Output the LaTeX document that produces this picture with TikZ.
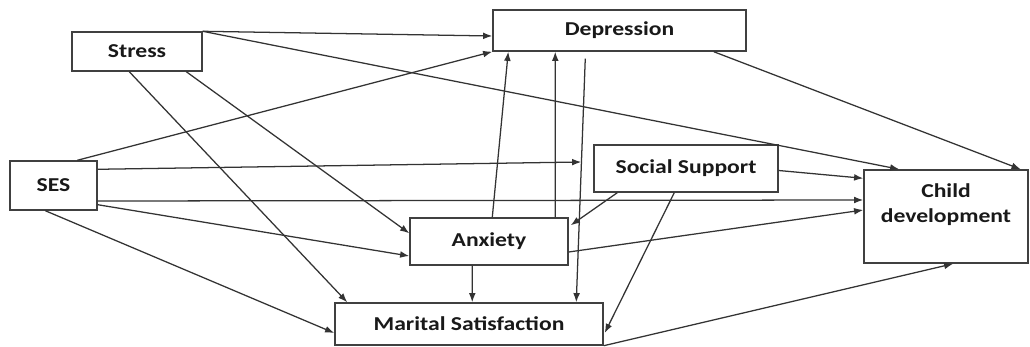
\documentclass[tikz,border=0pt]{standalone}
\usepackage{fontspec}
\setmainfont{Carlito}[FakeStretch=1.2]
\usepackage{tikz}
\usetikzlibrary{arrows.meta,calc}

\begin{document}
\begin{tikzpicture}[x=0.025cm,y=-0.025cm,->,>={Latex[length=2.3mm,width=1.7mm]},
  line width=0.9pt,black!80]
  \tikzstyle{box}=[draw=black!75,line width=1pt,fill=white,inner sep=0pt,
    font=\fontsize{14}{18}\selectfont\bfseries,text=black!90,align=center]

  \useasboundingbox (0,0) rectangle (1030,347);

  \node[box,minimum width=3.25cm,minimum height=0.975cm]  (Stress)     at (137,51.5)  {Stress};
  \node[box,minimum width=6.325cm,minimum height=1.025cm] (Depression) at (619.5,30.5) {Depression};
  \node[box,minimum width=2.175cm,minimum height=1.225cm] (SES)        at (53.5,185.5) {SES};
  \node[box,minimum width=4.6cm,minimum height=1.175cm]   (Support)    at (686,168.5)  {Social Support};
  \node[box,minimum width=4.1cm,minimum height=2.325cm]   (Child)      at (946,216.5)
    {Child\\development\rule[-0.68cm]{0pt}{0pt}};
  \node[box,minimum width=3.95cm,minimum height=1.175cm]  (Anxiety)    at (489,241.5)  {Anxiety};
  \node[box,minimum width=6.7cm,minimum height=1.05cm]    (Marital)    at (469,324)    {Marital Satisfaction};

  \path (Stress.north east) edge ($(Depression.west)+(0,5.5)$)
        (Stress.north east) edge ($(Child.north west)+(36,0)$)
        ($(Stress.south west)+(58,0)$) edge ($(Marital.north west)+(13,0)$)
        ($(Stress.south west)+(115,0)$) edge ($(Anxiety.north west)+(0,16)$)
        ($(SES.north west)+(68,0)$) edge (Depression.south west)
        ($(SES.north east)+(0,9)$) edge ($(Support.west)+(-12,-6.5)$)
        ($(SES.east)+(0,15.5)$) edge ($(Child.west)+(0,-16.5)$)
        ($(SES.south east)+(0,-6)$) edge ($(Anxiety.west)+(0,14.5)$)
        ($(SES.south west)+(36,0)$) edge ($(Marital.west)+(0,9)$)
        ($(Anxiety.north west)+(83,0)$) edge ($(Depression.south west)+(16,0)$)
        ($(Anxiety.north west)+(146,0)$) edge ($(Depression.south west)+(63,0)$)
        ($(Depression.south west)+(93,7)$) edge ($(Marital.north west)+(242,0)$)
        ($(Anxiety.south west)+(63,0)$) edge ($(Marital.north west)+(138,0)$)
        ($(Support.south west)+(24,0)$) edge ($(Anxiety.north east)+(2,8)$)
        ($(Support.south west)+(81,0)$) edge ($(Marital.east)+(1,9)$)
        ($(Support.east)+(0,2)$) edge ($(Child.north west)+(0,9)$)
        ($(Anxiety.east)+(0,10.5)$) edge ($(Child.west)+(0,-6.5)$)
        ($(Depression.south east)+(-33,0)$) edge ($(Child.north east)+(-8,0)$)
        (Marital.south east) edge ($(Child.south west)+(90,0)$)
        ;
\end{tikzpicture}
\end{document}
